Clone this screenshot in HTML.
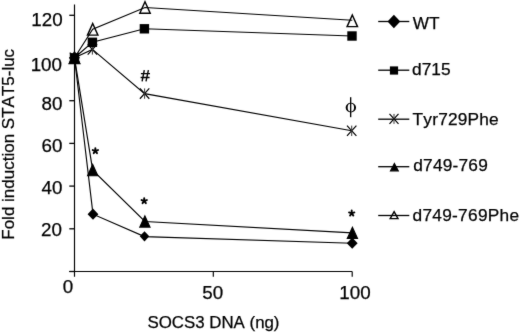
<!DOCTYPE html>
<html><head><meta charset="utf-8"><style>
html,body{margin:0;padding:0;background:#fff;width:520px;height:332px;overflow:hidden}
svg{display:block;will-change:transform}
text{font-family:"Liberation Sans",sans-serif;fill:#000;font-kerning:none;stroke:#000;stroke-width:0.25px}
</style></head><body>
<svg width="520" height="332" viewBox="0 0 520 332">
<defs><filter id="b" x="0" y="0" width="520" height="332" filterUnits="userSpaceOnUse"><feConvolveMatrix order="3" kernelMatrix="0.0150 0.0600 0.0150 0.0600 0.7000 0.0600 0.0150 0.0600 0.0150" edgeMode="duplicate" preserveAlpha="false"/></filter></defs>
<rect width="520" height="332" fill="#fff"/>
<g filter="url(#b)">
<path d="M74.5 4.5V276.8M69.3 271.5H352.2M213.3 271.5V276.8M352.2 271.5V276.8" fill="none" stroke="#000" stroke-width="1.15"/>
<path d="M69.3 15.30H74.5" stroke="#000" stroke-width="1.3"/>
<path d="M69.3 58.00H74.5" stroke="#000" stroke-width="1.3"/>
<path d="M69.3 100.70H74.5" stroke="#000" stroke-width="1.3"/>
<path d="M69.3 143.40H74.5" stroke="#000" stroke-width="1.3"/>
<path d="M69.3 186.10H74.5" stroke="#000" stroke-width="1.3"/>
<path d="M69.3 228.80H74.5" stroke="#000" stroke-width="1.3"/>
<path d="M69.3 271.50H74.5" stroke="#000" stroke-width="1.3"/>
<path d="M74.50 57.80L93.00 214.20L144.50 236.60L352.20 243.20" fill="none" stroke="#000" stroke-width="1.15"/>
<path d="M74.50 57.80L92.40 42.30L144.40 28.80L352.00 36.00" fill="none" stroke="#000" stroke-width="1.15"/>
<path d="M74.50 57.80L92.40 49.40L144.60 93.60L351.70 130.80" fill="none" stroke="#000" stroke-width="1.15"/>
<path d="M74.50 57.80L92.70 170.10L144.90 221.50L352.40 232.90" fill="none" stroke="#000" stroke-width="1.15"/>
<path d="M74.50 57.80L92.70 29.30L145.00 7.50L352.30 20.20" fill="none" stroke="#000" stroke-width="1.15"/>
<path d="M74.50 52.00L79.70 63.60L69.30 63.60Z" fill="none" stroke="#000" stroke-width="1.45" stroke-linejoin="miter"/>
<path d="M92.70 23.50L97.90 35.10L87.50 35.10Z" fill="none" stroke="#000" stroke-width="1.45" stroke-linejoin="miter"/>
<path d="M145.00 1.70L150.20 13.30L139.80 13.30Z" fill="none" stroke="#000" stroke-width="1.45" stroke-linejoin="miter"/>
<path d="M352.30 15.00L357.50 26.60L347.10 26.60Z" fill="none" stroke="#000" stroke-width="1.45" stroke-linejoin="miter"/>
<path d="M74.50 52.13L79.90 57.80L74.50 63.47L69.10 57.80Z" fill="#000"/>
<path d="M93.00 208.53L98.40 214.20L93.00 219.87L87.60 214.20Z" fill="#000"/>
<path d="M144.50 231.20L149.25 236.30L144.50 241.40L139.75 236.30Z" fill="#000"/>
<path d="M352.20 237.53L357.60 243.20L352.20 248.87L346.80 243.20Z" fill="#000"/>
<path d="M69.80 52.63L79.20 62.97M79.20 52.63L69.80 62.97" fill="none" stroke="#000" stroke-width="1.2"/><path d="M74.50 52.63L74.50 62.97" fill="none" stroke="#333" stroke-width="1.0"/>
<path d="M87.70 44.23L97.10 54.57M97.10 44.23L87.70 54.57" fill="none" stroke="#000" stroke-width="1.2"/><path d="M92.40 44.23L92.40 54.57" fill="none" stroke="#333" stroke-width="1.0"/>
<path d="M139.90 88.43L149.30 98.77M149.30 88.43L139.90 98.77" fill="none" stroke="#000" stroke-width="1.2"/><path d="M144.60 88.43L144.60 98.77" fill="none" stroke="#333" stroke-width="1.0"/>
<path d="M347.00 125.63L356.40 135.97M356.40 125.63L347.00 135.97" fill="none" stroke="#000" stroke-width="1.2"/><path d="M351.70 125.63L351.70 135.97" fill="none" stroke="#333" stroke-width="1.0"/>
<path d="M74.50 52.20L79.60 63.40L69.40 63.40Z" fill="#000" stroke="#000" stroke-width="1.15" stroke-linejoin="miter"/>
<path d="M92.70 164.50L97.80 175.70L87.60 175.70Z" fill="#000" stroke="#000" stroke-width="1.15" stroke-linejoin="miter"/>
<path d="M144.90 215.90L150.00 227.10L139.80 227.10Z" fill="#000" stroke="#000" stroke-width="1.15" stroke-linejoin="miter"/>
<path d="M352.40 227.30L357.50 238.50L347.30 238.50Z" fill="#000" stroke="#000" stroke-width="1.15" stroke-linejoin="miter"/>
<rect x="69.80" y="53.10" width="9.40" height="9.40" fill="#000"/>
<rect x="87.70" y="37.60" width="9.40" height="9.40" fill="#000"/>
<rect x="139.70" y="24.10" width="9.40" height="9.40" fill="#000"/>
<rect x="347.30" y="31.30" width="9.40" height="9.40" fill="#000"/>
<path d="M95.35 150.90L95.35 148.10M95.35 150.90L98.01 150.03M95.35 150.90L97.00 153.17M95.35 150.90L93.70 153.17M95.35 150.90L92.69 150.03" stroke="#000" stroke-width="1.9" stroke-linecap="round" fill="none"/>
<path d="M144.20 200.90L144.20 198.10M144.20 200.90L146.86 200.03M144.20 200.90L145.85 203.17M144.20 200.90L142.55 203.17M144.20 200.90L141.54 200.03" stroke="#000" stroke-width="1.9" stroke-linecap="round" fill="none"/>
<path d="M351.70 213.30L351.70 210.50M351.70 213.30L354.36 212.43M351.70 213.30L353.35 215.57M351.70 213.30L350.05 215.57M351.70 213.30L349.04 212.43" stroke="#000" stroke-width="1.9" stroke-linecap="round" fill="none"/>
<path d="M144.3 70.1L142.1 81.4M148.4 70.1L146.0 81.4M140.9 73.6H150.0M140.6 77.5H149.6" stroke="#000" stroke-width="1.4" fill="none"/>
<path d="M345.65 107.60a5.2 4.9 0 1 0 10.4 0a5.2 4.9 0 1 0 -10.4 0ZM347.65 107.60a3.2 4.1 0 1 1 6.4 0a3.2 4.1 0 1 1 -6.4 0Z" fill="#000" fill-rule="evenodd"/>
<path d="M350.65 97.2V117.2" stroke="#000" stroke-width="1.35"/>
<text x="62.6" y="25.5" font-size="18.8" text-anchor="end" >120</text>
<text x="62.0" y="71" font-size="18.8" text-anchor="end" >100</text>
<text x="62.4" y="110.2" font-size="18.8" text-anchor="end" >80</text>
<text x="62.5" y="151.6" font-size="18.8" text-anchor="end" >60</text>
<text x="62.5" y="193.7" font-size="18.8" text-anchor="end" >40</text>
<text x="62.0" y="235.7" font-size="18.8" text-anchor="end" >20</text>
<text x="68.0" y="292.5" font-size="18.8" text-anchor="middle" >0</text>
<text x="212.8" y="299.1" font-size="18.8" text-anchor="middle" >50</text>
<text x="355" y="299.1" font-size="18.8" text-anchor="middle" >100</text>
<text x="213.5" y="327.9" font-size="16.85" text-anchor="middle" >SOCS3 DNA (ng)</text>
<text transform="translate(14.3 144.3) rotate(-90)" font-size="17" text-anchor="middle" stroke-width="0.1">Fold induction STAT5-luc</text>
<path d="M378.2 21.5H409.3" stroke="#000" stroke-width="1.3"/>
<path d="M393.90 14.75L400.30 21.55L393.90 28.35L387.50 21.55Z" fill="#000"/>
<text x="412.7" y="28.6" font-size="17.2" text-anchor="start" letter-spacing="0">WT</text>
<path d="M378.2 70.2H409.3" stroke="#000" stroke-width="1.3"/>
<rect x="389.90" y="66.40" width="8.20" height="8.20" fill="#000"/>
<text x="412.0" y="75.3" font-size="17.3" text-anchor="start" letter-spacing="0.05">d715</text>
<path d="M378.2 119.2H409.3" stroke="#000" stroke-width="1.3"/>
<path d="M389.50 113.95L398.50 123.85M398.50 113.95L389.50 123.85" fill="none" stroke="#000" stroke-width="1.2"/><path d="M394.00 113.95L394.00 123.85" fill="none" stroke="#333" stroke-width="1.0"/>
<text x="412.59999999999997" y="125.2" font-size="17.3" text-anchor="start" letter-spacing="0.2">Tyr729Phe</text>
<path d="M378.2 166.7H409.3" stroke="#000" stroke-width="1.3"/>
<path d="M394.40 163.40L398.30 170.80L390.50 170.80Z" fill="#000" stroke="#000" stroke-width="1.15" stroke-linejoin="miter"/>
<text x="413.29999999999995" y="171.4" font-size="17.3" text-anchor="start" letter-spacing="0.21">d749-769</text>
<path d="M378.2 215.5H409.3" stroke="#000" stroke-width="1.3"/>
<path d="M394.10 211.60L398.00 218.60L390.20 218.60Z" fill="none" stroke="#000" stroke-width="1.4" stroke-linejoin="miter"/>
<text x="412.5" y="220.7" font-size="17.3" text-anchor="start" letter-spacing="0.28">d749-769Phe</text>
</g>
</svg>
</body></html>
